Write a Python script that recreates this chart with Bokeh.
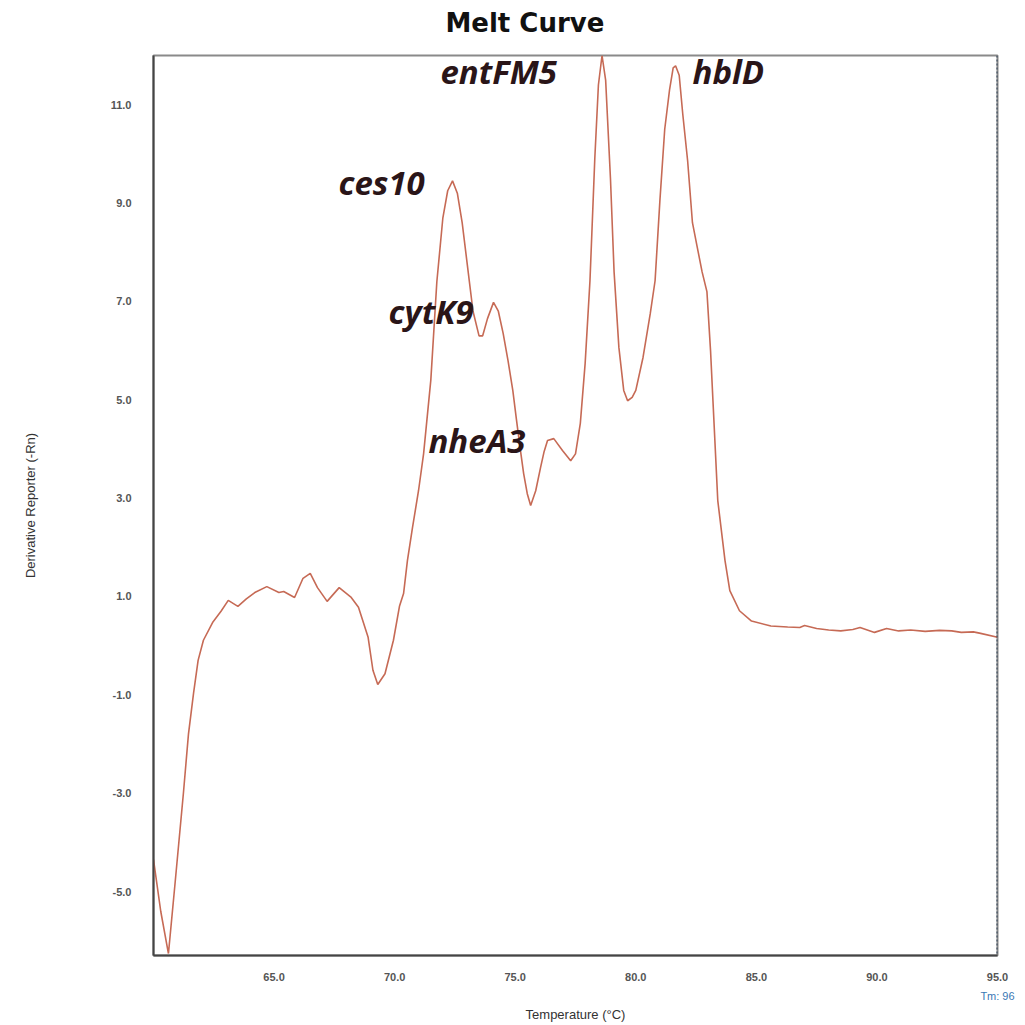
from bokeh.plotting import figure
from bokeh.models import (Range1d, FixedTicker, PrintfTickFormatter, Span,
                          LinearAxis, ColumnDataSource)
from bokeh.core.properties import value
from bokeh.embed import file_html
from bokeh.resources import INLINE

# ---- data ----
temperature = [60.0, 60.3, 60.62, 60.9, 61.24, 61.45, 61.66, 61.85, 62.07, 62.45, 62.8, 63.1, 63.5, 63.85,
               64.2, 64.7, 65.2, 65.4, 65.85, 66.2, 66.5, 66.8, 67.2, 67.7, 68.2, 68.5, 68.9, 69.1, 69.3,
               69.6, 69.95, 70.2, 70.37, 70.53, 70.74, 70.99, 71.2, 71.5, 71.75, 72.0, 72.2, 72.4, 72.6,
               72.8, 73.0, 73.25, 73.5, 73.65, 73.85, 74.1, 74.3, 74.5, 74.7, 74.9, 75.05, 75.2, 75.35,
               75.5, 75.64, 75.85, 76.05, 76.2, 76.34, 76.6, 76.96, 77.3, 77.5, 77.7, 77.9, 78.1, 78.3,
               78.45, 78.6, 78.75, 78.95, 79.1, 79.3, 79.5, 79.66, 79.85, 80.0, 80.3, 80.6, 80.8, 81.0,
               81.2, 81.4, 81.55, 81.65, 81.8, 81.95, 82.15, 82.35, 82.55, 82.75, 82.95, 83.1, 83.2,
               83.4, 83.7, 83.9, 84.3, 84.8, 85.6, 86.3, 86.8, 87.0, 87.5, 88.0, 88.5, 89.0, 89.3,
               89.9, 90.4, 90.9, 91.4, 92.0, 92.6, 93.1, 93.5, 94.0, 94.3, 95.0]
derivative = [-4.35, -5.4, -6.26, -4.8, -3.0, -1.8, -0.97, -0.3, 0.11, 0.47, 0.7, 0.92, 0.80, 0.95,
              1.08, 1.2, 1.08, 1.1, 0.98, 1.37, 1.47, 1.18, 0.9, 1.18, 0.98, 0.78, 0.17, -0.5, -0.79,
              -0.57, 0.11, 0.8, 1.06, 1.73, 2.4, 3.15, 3.9, 5.4, 7.4, 8.7, 9.25, 9.45, 9.2,
              8.6, 7.8, 6.8, 6.3, 6.3, 6.65, 6.98, 6.8, 6.35, 5.8, 5.19, 4.6, 4.03, 3.5,
              3.09, 2.85, 3.15, 3.62, 3.95, 4.17, 4.21, 3.97, 3.76, 3.9, 4.52, 5.74, 7.42, 9.9,
              11.4, 12.0, 11.5, 9.5, 7.6, 6.06, 5.19, 4.98, 5.05, 5.19, 5.86, 6.75, 7.42, 9.05,
              10.5, 11.3, 11.75, 11.79, 11.6, 10.8, 9.86, 8.6, 8.1, 7.6, 7.2, 6.0, 4.98,
              2.95, 1.73, 1.12, 0.71, 0.5, 0.4, 0.38, 0.37, 0.41, 0.35, 0.32, 0.3, 0.33, 0.37,
              0.27, 0.35, 0.3, 0.32, 0.29, 0.31, 0.3, 0.27, 0.28, 0.25, 0.17]

x_ticks = [65, 70, 75, 80, 85, 90, 95]
y_ticks = [-5, -3, -1, 1, 3, 5, 7, 9, 11]
title_text = "Melt Curve"
tm_text = "Tm: 96"

gene_labels = ["entFM5", "hblD", "ces10", "cytK9", "nheA3"]
label_x = [71.9, 82.35, 67.67, 69.75, 71.4]
label_y = [11.67, 11.67, 9.41, 6.79, 4.17]

# ---- figure ----
p = figure(width=1025, height=1025, output_backend="svg", toolbar_location=None,
           x_range=Range1d(60, 95), y_range=Range1d(-6.3, 12.0))
p.min_border_left = 153
p.min_border_right = 28
p.min_border_top = 55
p.min_border_bottom = 70
p.background_fill_color = "white"
p.border_fill_color = "white"
p.outline_line_color = "#8a8a8a"
p.outline_line_width = 2
p.xgrid.visible = False
p.ygrid.visible = False

main_x = p.xaxis[0]
main_y = p.yaxis[0]
main_x.ticker = FixedTicker(ticks=x_ticks)
main_y.ticker = FixedTicker(ticks=y_ticks)
main_x.formatter = PrintfTickFormatter(format="%.1f")
main_y.formatter = PrintfTickFormatter(format="%.1f")
for ax in (main_x, main_y):
    ax.major_tick_line_color = None
    ax.minor_tick_line_color = None
    ax.major_label_text_font = "Liberation Sans"
    ax.major_label_text_font_style = "bold"
    ax.major_label_text_font_size = "11px"
    ax.major_label_text_color = "#555555"
    ax.axis_line_color = "#444444"
    ax.axis_line_width = 2

main_y.axis_label = "Derivative Reporter (-Rn)"
main_y.axis_label_text_font = "Liberation Sans"
main_y.axis_label_text_font_style = "normal"
main_y.axis_label_text_font_size = "13px"
main_y.axis_label_text_color = "#333333"
main_x.major_label_standoff = 11
main_y.major_label_standoff = 16
main_y.axis_label_standoff = 70

# chart title, carried by an axis above the frame so it can sit left of centre
title_x = 75.4
top_axis = LinearAxis(ticker=FixedTicker(ticks=[title_x]), major_label_overrides={title_x: title_text},
                      axis_line_color=None, major_tick_line_color=None, minor_tick_line_color=None,
                      major_label_standoff=12, major_label_text_font="DejaVu Sans",
                      major_label_text_font_style="bold", major_label_text_font_size="26px",
                      major_label_text_color="#111111")
p.add_layout(top_axis, "above")

# second axis below: carries the Tm note and the x-axis title
x2 = LinearAxis(ticker=FixedTicker(ticks=[95]), major_label_overrides={95: tm_text},
                axis_line_color=None, major_tick_line_color=None, minor_tick_line_color=None,
                major_label_standoff=0, major_label_text_font="Liberation Sans",
                major_label_text_font_size="11px", major_label_text_color="#3a78b5",
                axis_label="Temperature (°C)", axis_label_standoff=2,
                axis_label_text_font="Liberation Sans", axis_label_text_font_style="normal",
                axis_label_text_font_size="13px", axis_label_text_color="#333333")
p.add_layout(x2, "below")

p.add_layout(Span(location=95, dimension="height", line_color="#2a3e55",
                  line_width=2, line_dash="2 2"))

p.line(temperature, derivative, line_color="#c66a55", line_width=1.6)

src = ColumnDataSource(dict(x=label_x, y=label_y, t=gene_labels))
p.text(x="x", y="y", text="t", source=src, text_font=value("Open Sans"),
       text_font_style="bold italic", text_font_size="33px", text_color="#2a1518",
       text_align="left", text_baseline="middle")

open("out.html", "w").write(file_html(p, INLINE))
